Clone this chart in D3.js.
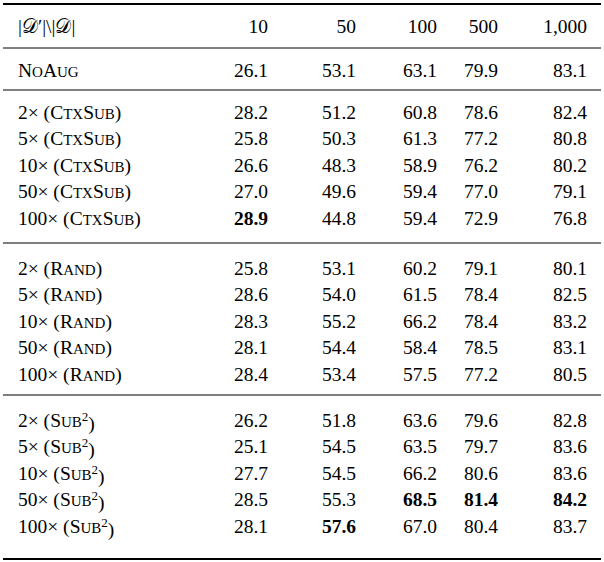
<!DOCTYPE html>
<html><head><meta charset="utf-8">
<script src="https://cdn.jsdelivr.net/npm/d3@7"></script>
<style>body{margin:0;background:#fff}</style>
</head><body><svg id="t" width="604" height="562" font-family="'Liberation Serif', 'Times New Roman', 'DejaVu Serif', serif" font-size="19.5"></svg>
<script>
const columns = ["10", "50", "100", "500", "1,000"];
const methods = ["CtxSub", "Rand", "Sub"];
const factors = ["2", "5", "10", "50", "100"];
const noAug = [26.1, 53.1, 63.1, 79.9, 83.1];
const ctxSub = [[28.2,51.2,60.8,78.6,82.4],[25.8,50.3,61.3,77.2,80.8],[26.6,48.3,58.9,76.2,80.2],[27.0,49.6,59.4,77.0,79.1],[28.9,44.8,59.4,72.9,76.8]];
const rand = [[25.8,53.1,60.2,79.1,80.1],[28.6,54.0,61.5,78.4,82.5],[28.3,55.2,66.2,78.4,83.2],[28.1,54.4,58.4,78.5,83.1],[28.4,53.4,57.5,77.2,80.5]];
const sub2 = [[26.2,51.8,63.6,79.6,82.8],[25.1,54.5,63.5,79.7,83.6],[27.7,54.5,66.2,80.6,83.6],[28.5,55.3,68.5,81.4,84.2],[28.1,57.6,67.0,80.4,83.7]];
const bold = [["CtxSub",4,0],["Sub",4,1],["Sub",3,2],["Sub",3,3],["Sub",3,4]];

const svg = d3.select("#t");
const x = d3.scaleOrdinal().domain(columns).range([268, 356, 437, 498, 587]);
const groupData = {CtxSub: ctxSub, Rand: rand, Sub: sub2};
const groupTop = {CtxSub: 112, Rand: 268, Sub: 420};
const step = 26.5;

// rules
[[4,1.8],[48,1],[90,1],[243,1.2],[395,1.2],[559,1.8]].forEach(([y,w]) =>
  svg.append("line").attr("x1",3).attr("x2",601).attr("y1",y).attr("y2",y).attr("stroke","#000").attr("stroke-width",w));

// header
svg.append("text").attr("x",18).attr("y",26).attr("dy","0.35em").text("|𝒟′|\\|𝒟|");
svg.selectAll(".hd").data(columns).join("text").attr("class","hd")
  .attr("x",d=>x(d)).attr("y",26).attr("dy","0.35em").attr("text-anchor","end").text(d=>d);

function smallCaps(sel, word) {
  // first letter capital, rest in small caps
  sel.append("tspan").text(word[0]);
  sel.append("tspan").attr("font-size",15).text(word.slice(1).toUpperCase());
}
function label(y, fn) {
  const t = svg.append("text").attr("x",18).attr("y",y).attr("dy","0.35em");
  fn(t);
}
function nums(y, vals, isBold) {
  svg.append("g").selectAll("text").data(vals).join("text")
    .attr("x",(d,i)=>x(columns[i])).attr("y",y).attr("dy","0.35em").attr("text-anchor","end")
    .attr("font-weight",(d,i)=>isBold(i)?"bold":"normal").text(d=>d.toFixed(1));
}

label(70, t => { smallCaps(t,"No"); smallCaps(t,"Aug"); });
nums(70, noAug, () => false);

methods.forEach(m => {
  groupData[m].forEach((row, r) => {
    const y = groupTop[m] + r*step;
    label(y, t => {
      t.append("tspan").text(factors[r] + "× (");
      if (m === "CtxSub") { smallCaps(t,"Ctx"); smallCaps(t,"Sub"); }
      else smallCaps(t, m);
      if (m === "Sub") t.append("tspan").attr("dy","-0.45em").attr("font-size",13).text("2");
      t.append("tspan").attr("dy", m === "Sub" ? "0.45em" : null).text(")");
    });
    nums(y, row, i => bold.some(b => b[0]===m && b[1]===r && b[2]===i));
  });
});
</script></body></html>
